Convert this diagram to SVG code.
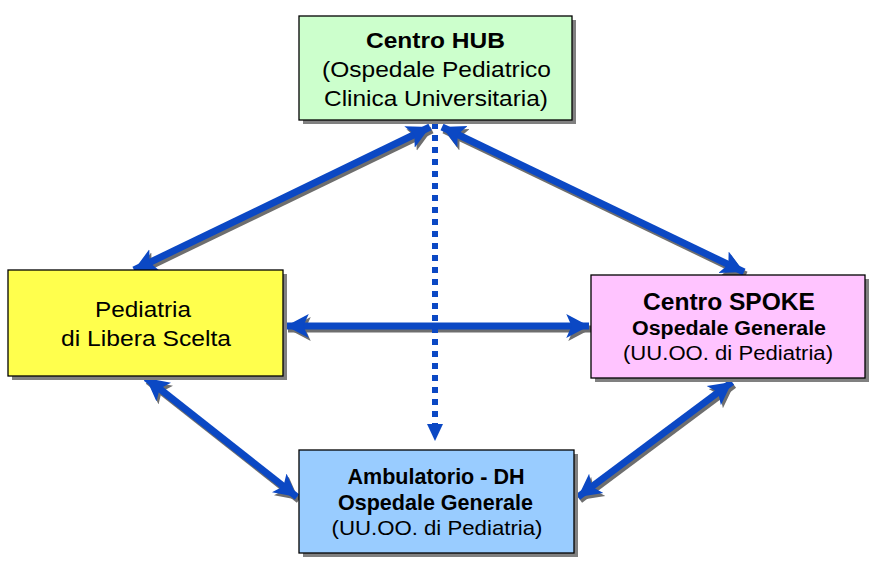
<svg xmlns="http://www.w3.org/2000/svg" width="883" height="582" viewBox="0 0 883 582">
<style>
.box{stroke:#000;stroke-width:1.3}
.sh{fill:#808080}
.t{font-family:"Liberation Sans",Arial,sans-serif;text-anchor:middle;fill:#000}
.b{font-weight:bold}
.ln{stroke:#0b48c4;stroke-width:7;fill:none}
.lns{stroke:#6e6e6e;stroke-width:7;fill:none}
</style>
<defs>
<marker id="ah" markerUnits="userSpaceOnUse" markerWidth="26" markerHeight="26" refX="21" refY="12" orient="auto-start-reverse" viewBox="0 0 24 24">
<path d="M0,1 L21,12 L0,23 L5,12 Z" fill="#0b48c4"/>
</marker>
<marker id="ahs" markerUnits="userSpaceOnUse" markerWidth="26" markerHeight="26" refX="21" refY="12" orient="auto-start-reverse" viewBox="0 0 24 24">
<path d="M0,1 L21,12 L0,23 L5,12 Z" fill="#6e6e6e"/>
</marker>
</defs>
<rect width="883" height="582" fill="#fff"/>
<g id="connectors">
<g transform="translate(2,3)">
<line class="lns" x1="430" y1="127" x2="134" y2="270" marker-start="url(#ahs)" marker-end="url(#ahs)"/>
<line class="lns" x1="442" y1="127" x2="744" y2="272" marker-start="url(#ahs)" marker-end="url(#ahs)"/>
<line class="lns" x1="286" y1="326" x2="589" y2="326" marker-start="url(#ahs)" marker-end="url(#ahs)"/>
<line class="lns" x1="146" y1="378" x2="297" y2="497" marker-start="url(#ahs)" marker-end="url(#ahs)"/>
<line class="lns" x1="732" y1="382" x2="578" y2="497" marker-start="url(#ahs)" marker-end="url(#ahs)"/>
</g>
<line class="ln" x1="430" y1="127" x2="134" y2="270" marker-start="url(#ah)" marker-end="url(#ah)"/>
<line class="ln" x1="442" y1="127" x2="744" y2="272" marker-start="url(#ah)" marker-end="url(#ah)"/>
<line class="ln" x1="286" y1="326" x2="589" y2="326" marker-start="url(#ah)" marker-end="url(#ah)"/>
<line class="ln" x1="146" y1="378" x2="297" y2="497" marker-start="url(#ah)" marker-end="url(#ah)"/>
<line class="ln" x1="732" y1="382" x2="578" y2="497" marker-start="url(#ah)" marker-end="url(#ah)"/>
<line x1="435" y1="123" x2="435" y2="428" stroke="#0b48c4" stroke-width="6" stroke-dasharray="6,6"/>
<path d="M427,424 L435,441 L443,424 Z" fill="#0b48c4"/>
</g>
<g id="hub">
<rect class="sh" x="303" y="20" width="273" height="104"/>
<rect class="box" x="299" y="16" width="273" height="104" fill="#ccffcc"/>
<text class="t b" x="435.5" y="48" font-size="22.5" textLength="139" lengthAdjust="spacingAndGlyphs">Centro HUB</text>
<text class="t" x="436.5" y="77" font-size="21.5" textLength="229" lengthAdjust="spacingAndGlyphs">(Ospedale Pediatrico</text>
<text class="t" x="436" y="106" font-size="21.5" textLength="224" lengthAdjust="spacingAndGlyphs">Clinica Universitaria)</text>
</g>
<g id="pediatria">
<rect class="sh" x="12" y="274" width="275" height="106"/>
<rect class="box" x="8" y="270" width="275" height="106" fill="#ffff4d"/>
<text class="t" x="143" y="317" font-size="22" textLength="96" lengthAdjust="spacingAndGlyphs">Pediatria</text>
<text class="t" x="146" y="346" font-size="22" textLength="170" lengthAdjust="spacingAndGlyphs">di Libera Scelta</text>
</g>
<g id="spoke">
<rect class="sh" x="595" y="279" width="274" height="103"/>
<rect class="box" x="591" y="275" width="274" height="103" fill="#ffc4ff"/>
<text class="t b" x="729" y="310" font-size="23" textLength="172" lengthAdjust="spacingAndGlyphs">Centro SPOKE</text>
<text class="t b" x="729" y="335" font-size="20" textLength="194" lengthAdjust="spacingAndGlyphs">Ospedale Generale</text>
<text class="t" x="728" y="360" font-size="20" textLength="210" lengthAdjust="spacingAndGlyphs">(UU.OO. di Pediatria)</text>
</g>
<g id="ambulatorio">
<rect class="sh" x="303" y="454" width="275" height="103"/>
<rect class="box" x="299" y="450" width="275" height="103" fill="#99ccff"/>
<text class="t b" x="436" y="484" font-size="22" textLength="177" lengthAdjust="spacingAndGlyphs">Ambulatorio - DH</text>
<text class="t b" x="435.5" y="510" font-size="22" textLength="195" lengthAdjust="spacingAndGlyphs">Ospedale Generale</text>
<text class="t" x="437" y="535" font-size="21" textLength="211" lengthAdjust="spacingAndGlyphs">(UU.OO. di Pediatria)</text>
</g>
</svg>
